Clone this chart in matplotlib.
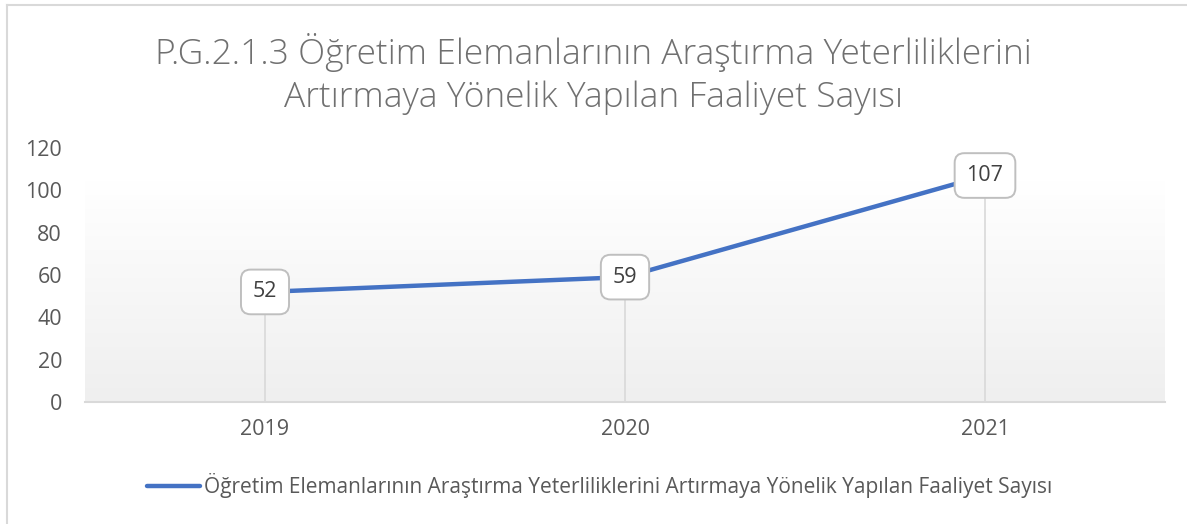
import numpy as np
import matplotlib
matplotlib.use("Agg")
import matplotlib.pyplot as plt
from matplotlib.lines import Line2D
from matplotlib.colors import LinearSegmentedColormap

categories = ["2019", "2020", "2021"]
values = [52, 59, 107]
yticks = [0, 20, 40, 60, 80, 100, 120]
title = "P.G.2.1.3 Öğretim Elemanlarının Araştırma Yeterliliklerini\nArtırmaya Yönelik Yapılan Faaliyet Sayısı"
series_name = "Öğretim Elemanlarının Araştırma Yeterliliklerini Artırmaya Yönelik Yapılan Faaliyet Sayısı"

plt.rcParams['font.family'] = ['Open Sans', 'DejaVu Sans']
txt = "#595959"

W, H = 1187, 524
fig = plt.figure(figsize=(W/100, H/100), dpi=100)
ax = fig.add_axes([85/W, 1-402/H, (1165-85)/W, (402-148)/H])

x = np.arange(len(categories))
ax.set_xlim(-0.5, len(categories)-0.5)
ax.set_ylim(0, 120)

# gradient background
grad = np.linspace(0, 1, 256).reshape(-1, 1)
cmap = LinearSegmentedColormap.from_list("g", ["#efefef", "#ffffff"])
ax.imshow(grad, aspect="auto", cmap=cmap, origin="lower",
          extent=(-0.5, len(categories)-0.5, 0, 104), zorder=0)

# drop lines
for xi, v in zip(x, values):
    ax.plot([xi, xi], [0, v], color="#d9d9d9", lw=1.2, zorder=1)

ax.plot(x, values, color="#4472C4", lw=3.2, solid_capstyle="round", zorder=2)

for xi, v in zip(x, values):
    ax.text(xi, v, str(v), ha="center", va="center", fontsize=15.5, color="#404040", zorder=4,
            bbox=dict(boxstyle="round,pad=0.55,rounding_size=0.45", fc="white", ec="#bfbfbf", lw=1.4))

ax.set_xticks(x)
ax.set_xticklabels(categories)
ax.set_yticks(yticks)
ax.tick_params(axis="both", length=0, colors=txt, labelsize=15.5)
ax.tick_params(axis="x", pad=12)
ax.tick_params(axis="y", pad=16.5)
for s in ["top", "right", "left"]:
    ax.spines[s].set_visible(False)
ax.spines["bottom"].set_color("#d9d9d9")
ax.spines["bottom"].set_linewidth(1.5)

fig.text(0.5, 1-74/H, title, ha="center", va="center", fontsize=25.5, color="#707070",
         linespacing=1.35, fontweight="light")

# legend
leg_y = 1-486/H
fig.add_artist(Line2D([147/W, 200/W], [leg_y, leg_y], color="#4472C4", lw=3.2, solid_capstyle="round"))
fig.text(204/W, leg_y, series_name, ha="left", va="center", fontsize=15, color=txt)

# chart border
fig.add_artist(Line2D([6.5/W, 6.5/W], [0, 1-4.5/H], color="#d9d9d9", lw=1.5))
fig.add_artist(Line2D([6.5/W, 1], [1-4.5/H, 1-4.5/H], color="#d9d9d9", lw=1.5))

fig.savefig("out.png", dpi=100, facecolor="white")
